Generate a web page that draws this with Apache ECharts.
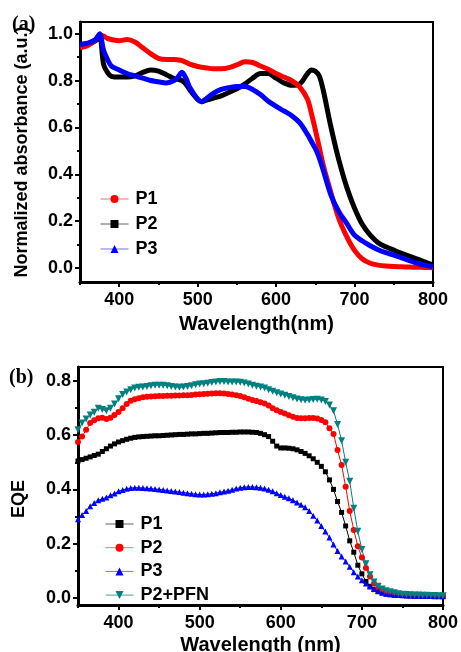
<!DOCTYPE html>
<html>
<head>
<meta charset="utf-8">
<script src="https://cdn.jsdelivr.net/npm/echarts@6/dist/echarts.min.js"></script>
<style>html,body{margin:0;padding:0;background:#fff}#c{width:461px;height:652px}</style>
</head>
<body>
<div id="c"></div>
<script>
// ---------- (a) absorbance ----------
const absWl = [350,360,370,375,380,385,390,400,410,420,430,440,450,460,470,475,480,485,490,500,505,510,520,530,540,550,560,570,580,590,600,610,620,630,640,645,650,655,660,670,680,690,700,710,720,730,740,750,760,770,780,790,800];
const absP1 = [0.94,0.95,0.975,0.995,0.99,0.98,0.975,0.97,0.975,0.965,0.94,0.915,0.895,0.89,0.89,0.888,0.885,0.878,0.87,0.86,0.857,0.855,0.85,0.85,0.855,0.867,0.88,0.877,0.862,0.848,0.83,0.815,0.80,0.773,0.72,0.66,0.59,0.515,0.44,0.32,0.21,0.134,0.075,0.038,0.02,0.012,0.008,0.006,0.005,0.004,0.003,0.002,0.001];
const absP2 = [0.95,0.955,0.97,0.99,0.87,0.835,0.818,0.815,0.815,0.82,0.835,0.845,0.84,0.825,0.808,0.805,0.80,0.785,0.76,0.72,0.71,0.715,0.725,0.735,0.75,0.765,0.785,0.81,0.83,0.83,0.81,0.79,0.78,0.785,0.83,0.845,0.84,0.82,0.76,0.60,0.46,0.345,0.255,0.185,0.14,0.108,0.09,0.076,0.062,0.05,0.038,0.025,0.013];
const absP3 = [0.955,0.96,0.975,1.0,0.93,0.89,0.862,0.845,0.83,0.82,0.81,0.80,0.795,0.79,0.80,0.815,0.835,0.81,0.77,0.72,0.71,0.72,0.745,0.762,0.77,0.775,0.775,0.762,0.74,0.712,0.69,0.67,0.65,0.62,0.57,0.54,0.51,0.47,0.418,0.31,0.24,0.19,0.14,0.115,0.095,0.078,0.065,0.055,0.043,0.031,0.02,0.012,0.005];

// ---------- (b) EQE ----------
const eqeWl = [350,355,360,365,370,375,380,385,390,395,400,405,410,415,420,425,430,435,440,445,450,455,460,465,470,475,480,485,490,495,500,505,510,515,520,525,530,535,540,545,550,555,560,565,570,575,580,585,590,595,600,605,610,615,620,625,630,635,640,645,650,655,660,665,670,675,680,685,690,695,700,705,710,715,720,725,730,735,740,745,750,755,760,765,770,775,780,785,790,795,800];
const eqeP1 = [0.505,0.51,0.515,0.52,0.525,0.53,0.54,0.55,0.56,0.568,
 0.575,0.58,0.585,0.589,0.592,0.594,0.595,0.596,0.597,0.598,
 0.598,0.599,0.60,0.601,0.602,0.603,0.603,0.604,0.605,0.605,
 0.606,0.607,0.607,0.608,0.609,0.61,0.61,0.61,0.611,0.611,
 0.612,0.612,0.612,0.611,0.61,0.607,0.602,0.595,0.578,0.56,
 0.553,0.553,0.552,0.55,0.546,0.54,0.533,0.524,0.513,0.50,
 0.485,0.465,0.435,0.40,0.355,0.315,0.265,0.21,0.168,0.12,
 0.088,0.06,0.042,0.03,0.022,0.017,0.013,0.011,0.01,0.009,
 0.008,0.007,0.007,0.006,0.006,0.006,0.005,0.005,0.005,0.005,0.005];
const eqeP2 = [0.575,0.595,0.62,0.645,0.655,0.663,0.665,0.66,0.665,0.675,
 0.686,0.70,0.715,0.727,0.733,0.737,0.74,0.742,0.743,0.744,
 0.745,0.745,0.746,0.746,0.747,0.747,0.748,0.748,0.749,0.75,
 0.751,0.752,0.753,0.754,0.755,0.755,0.754,0.752,0.75,0.748,
 0.745,0.74,0.735,0.73,0.726,0.722,0.717,0.71,0.70,0.692,
 0.686,0.68,0.674,0.668,0.664,0.663,0.663,0.664,0.664,0.662,
 0.656,0.648,0.626,0.605,0.545,0.49,0.41,0.32,0.25,0.19,
 0.148,0.11,0.078,0.052,0.036,0.025,0.018,0.014,0.012,0.01,
 0.009,0.009,0.008,0.008,0.008,0.007,0.007,0.007,0.006,0.006,0.006];
const eqeP3 = [0.29,0.305,0.32,0.338,0.35,0.36,0.365,0.37,0.378,0.385,
 0.393,0.398,0.402,0.405,0.406,0.406,0.405,0.404,0.403,0.401,
 0.40,0.398,0.396,0.394,0.392,0.39,0.388,0.386,0.384,0.382,
 0.381,0.381,0.382,0.384,0.386,0.389,0.392,0.395,0.399,0.403,
 0.406,0.408,0.409,0.409,0.408,0.406,0.403,0.399,0.393,0.386,
 0.379,0.373,0.367,0.36,0.352,0.343,0.334,0.32,0.303,0.285,
 0.265,0.244,0.222,0.196,0.172,0.152,0.134,0.114,0.094,0.078,
 0.064,0.052,0.041,0.032,0.025,0.019,0.015,0.013,0.011,0.01,
 0.009,0.008,0.008,0.007,0.007,0.006,0.006,0.006,0.005,0.005,0.005];
const eqeP2PFN = [0.62,0.645,0.66,0.675,0.685,0.70,0.695,0.69,0.70,0.715,
 0.735,0.75,0.76,0.768,0.774,0.777,0.778,0.78,0.783,0.785,
 0.785,0.785,0.783,0.78,0.778,0.777,0.778,0.78,0.783,0.786,
 0.789,0.79,0.792,0.795,0.797,0.798,0.798,0.797,0.797,0.797,
 0.796,0.793,0.789,0.785,0.781,0.778,0.774,0.768,0.762,0.757,
 0.752,0.748,0.743,0.738,0.734,0.731,0.729,0.73,0.732,0.733,
 0.73,0.725,0.712,0.69,0.64,0.58,0.50,0.43,0.33,0.245,
 0.178,0.125,0.085,0.058,0.042,0.032,0.026,0.022,0.018,0.015,
 0.013,0.012,0.011,0.01,0.01,0.009,0.009,0.008,0.008,0.007,0.007];

// ---------- ticks ----------
const xMajor = [400,500,600,700,800];
const xMinor = [350,450,550,650,750];
const yMajor = [0.0,0.2,0.4,0.6,0.8,1.0];
const yMinorA = [0.1,0.3,0.5,0.7,0.9];
const yMajorB = [0.0,0.2,0.4,0.6,0.8];
const yMinorB = [0.1,0.3,0.5,0.7];

const FONT = 'Liberation Sans, Arial, sans-serif';
const lblStyle = {fontFamily: FONT, fontWeight: 'bold', fontSize: 18, color: '#000'};
const pairs = (xs, ys) => xs.map((x, i) => [x, ys[i]]);

function axisPair(dim, grid, min, max, major, minor, extra) {
  const main = Object.assign({
    type: 'value', gridIndex: grid, min: min, max: max,
    position: dim === 'x' ? 'bottom' : 'left',
    axisLine: {show: true, onZero: false, lineStyle: {color: '#000', width: 3}},
    axisTick: {show: true, inside: false, length: 5, customValues: major, lineStyle: {color: '#000', width: 2}},
    axisLabel: Object.assign({show: true, customValues: major, margin: dim === 'x' ? 9 : 7,
      formatter: dim === 'x' ? (v => String(v)) : (v => v.toFixed(1))}, lblStyle),
    splitLine: {show: false}
  }, extra || {});
  const sub = {
    type: 'value', gridIndex: grid, min: min, max: max,
    position: dim === 'x' ? 'bottom' : 'left',
    axisLine: {show: false, onZero: false},
    axisTick: {show: true, inside: false, length: 3, customValues: minor, lineStyle: {color: '#000', width: 2}},
    axisLabel: {show: false, customValues: minor},
    splitLine: {show: false}
  };
  return [main, sub];
}

const nameStyle = {fontFamily: FONT, fontWeight: 'bold', fontSize: 20, color: '#000'};

const xAxes = [].concat(
  axisPair('x', 0, 350, 800, xMajor, xMinor, {name: 'Wavelength(nm)', nameLocation: 'middle', nameGap: 32, nameTextStyle: nameStyle}),
  axisPair('x', 1, 350, 800, xMajor, xMinor, {name: 'Wavelength (nm)', nameLocation: 'middle', nameGap: 30, nameTextStyle: nameStyle})
);
const yAxes = [].concat(
  axisPair('y', 0, -0.06, 1.05, yMajor, yMinorA, {name: 'Normalized absorbance (a.u.)', nameLocation: 'middle', nameGap: 49, nameTextStyle: Object.assign({}, nameStyle, {fontSize: 18})}),
  axisPair('y', 1, -0.027, 0.852, yMajorB, yMinorB)
);

const chart = echarts.init(document.getElementById('c'), null, {renderer: 'canvas'});
const strip = n => n.replace(/^[ab]:/, '');
const legendBase = {
  orient: 'vertical', itemWidth: 28, itemHeight: 10, itemGap: 7,
  formatter: strip, selectedMode: false,
  lineStyle: {width: 1},
  textStyle: {fontFamily: FONT, fontWeight: 'bold', fontSize: 18, color: '#000', padding: [0, 0, 0, 2]}
};
const option = {
  animation: false,
  backgroundColor: '#fff',
  grid: [
    {left: 80, top: 22, width: 353, height: 260, show: true, borderColor: '#000', borderWidth: 2, backgroundColor: 'transparent', outerBoundsMode: 'none', containLabel: false},
    {left: 78, top: 367, width: 365, height: 238, show: true, borderColor: '#000', borderWidth: 2, backgroundColor: 'transparent', outerBoundsMode: 'none', containLabel: false}
  ],
  xAxis: xAxes,
  yAxis: yAxes,
  legend: [
    Object.assign({}, legendBase, {left: 95, top: 185, data: [
      {name: 'a:P1', lineStyle: {color: '#ff7070'}},
      {name: 'a:P2', lineStyle: {color: '#606060'}},
      {name: 'a:P3', lineStyle: {color: '#7070ff'}}
    ]}),
    Object.assign({}, legendBase, {left: 100, top: 510, itemGap: 5.7, data: [
      {name: 'b:P1', lineStyle: {color: '#606060'}},
      {name: 'b:P2', lineStyle: {color: '#ff7070'}},
      {name: 'b:P3', lineStyle: {color: '#7070ff'}},
      {name: 'b:P2+PFN', lineStyle: {color: '#40a0a0'}}
    ]})
  ],
  series: [
    {name: 'a:P2', type: 'line', xAxisIndex: 0, yAxisIndex: 0, data: pairs(absWl, absP2), smooth: 0.3,
     showSymbol: false, symbol: 'rect', symbolSize: 6, color: '#000', lineStyle: {color: '#000', width: 5}},
    {name: 'a:P1', type: 'line', xAxisIndex: 0, yAxisIndex: 0, data: pairs(absWl, absP1), smooth: 0.3,
     showSymbol: false, symbol: 'circle', symbolSize: 7, color: '#ff0000', lineStyle: {color: '#ff0000', width: 5}},
    {name: 'a:P3', type: 'line', xAxisIndex: 0, yAxisIndex: 0, data: pairs(absWl, absP3), smooth: 0.3,
     showSymbol: false, symbol: 'triangle', symbolSize: 7, color: '#0000ff', lineStyle: {color: '#0000ff', width: 5}},

    {name: 'b:P1', type: 'line', xAxisIndex: 2, yAxisIndex: 2, data: pairs(eqeWl, eqeP1),
     symbol: 'rect', symbolSize: 5, color: '#000', lineStyle: {color: '#000', width: 1}},
    {name: 'b:P2', type: 'line', xAxisIndex: 2, yAxisIndex: 2, data: pairs(eqeWl, eqeP2),
     symbol: 'circle', symbolSize: 6, color: '#ff0000', lineStyle: {color: '#ff0000', width: 1}},
    {name: 'b:P3', type: 'line', xAxisIndex: 2, yAxisIndex: 2, data: pairs(eqeWl, eqeP3),
     symbol: 'triangle', symbolSize: 6, color: '#0000ff', lineStyle: {color: '#0000ff', width: 1}},
    {name: 'b:P2+PFN', type: 'line', xAxisIndex: 2, yAxisIndex: 2, data: pairs(eqeWl, eqeP2PFN),
     symbol: 'triangle', symbolRotate: 180, symbolSize: 7, color: '#008080', lineStyle: {color: '#008080', width: 1}}
  ],
  graphic: [
    {type: 'text', left: 12, top: 15, style: {text: '(a)', font: 'bold 20px "Liberation Serif", "Times New Roman", serif', fill: '#000'}},
    {type: 'text', left: 9, top: 368, style: {text: '(b)', font: 'bold 20px "Liberation Serif", "Times New Roman", serif', fill: '#000'}},
    {type: 'text', x: 19, y: 499, rotation: Math.PI / 2,
     style: {text: 'EQE', font: 'bold 18px "Liberation Sans", Arial, sans-serif', fill: '#000', align: 'center', verticalAlign: 'middle'}}
  ]
};
chart.setOption(option);
</script>
</body>
</html>
